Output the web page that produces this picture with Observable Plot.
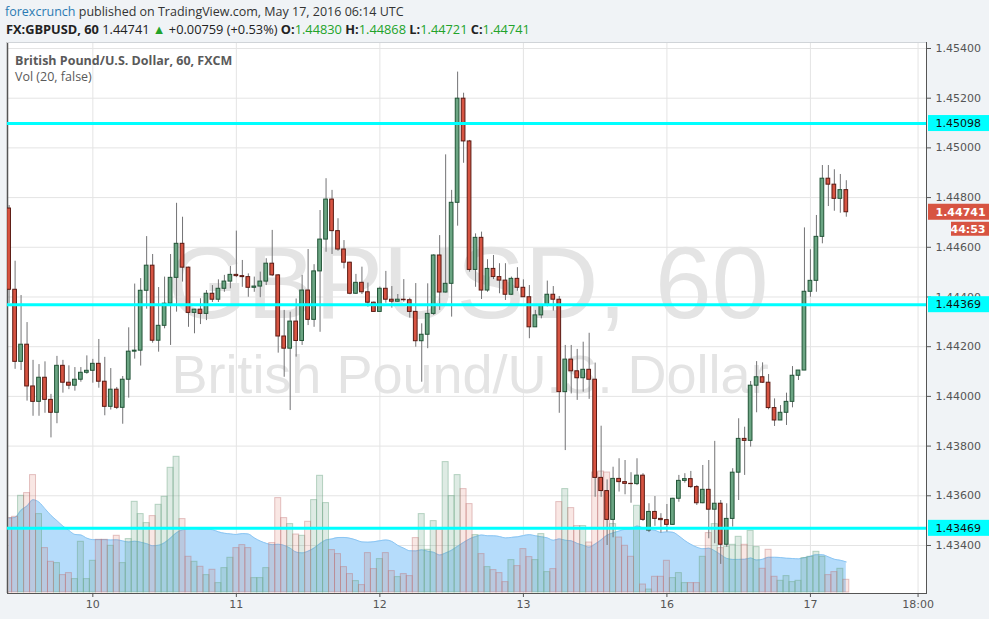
<!DOCTYPE html>
<html><head><meta charset="utf-8">
<script src="https://cdn.jsdelivr.net/npm/d3@7"></script>
<script src="https://cdn.jsdelivr.net/npm/@observablehq/plot@0.6"></script>
<style>
html,body{margin:0;padding:0;background:#f0f3f6;}
#wrap{position:relative;width:989px;height:619px;overflow:hidden;font-family:"Open Sans",sans-serif;}
#wrap svg{position:absolute;left:0;top:0;}
.t{position:absolute;white-space:nowrap;line-height:16px;}
.g{color:#22a32a;}
</style></head><body><div id="wrap"></div>
<script>
// ---- data (GBPUSD 60 min, FXCM) ----
const open = [1.44756,1.44429,1.44139,1.44208,1.44040,1.43978,1.44075,1.43986,1.43934,1.44123,
1.44055,1.44043,1.44067,1.44095,1.44103,1.44131,1.44059,1.43958,1.44027,1.43954,
1.44067,1.44180,1.44184,1.44425,1.44526,1.44224,1.44284,1.44373,1.44477,1.44614,
1.44518,1.44336,1.44349,1.44332,1.44413,1.44389,1.44433,1.44462,1.44489,1.44484,
1.44480,1.44437,1.44442,1.44462,1.44534,1.44487,1.44241,1.44192,1.44301,1.44223,
1.44426,1.44308,1.44503,1.44631,1.44792,1.44665,1.44591,1.44538,1.44413,1.44457,
1.44419,1.44377,1.44340,1.44433,1.44389,1.44381,1.44389,1.44387,1.44340,1.44222,
1.44248,1.44332,1.44567,1.44418,1.44453,1.44779,1.45198,1.45026,1.44509,1.44638,
1.44426,1.44513,1.44480,1.44466,1.44409,1.44473,1.44437,1.44399,1.44278,1.44326,
1.44366,1.44409,1.44389,1.44017,1.44148,1.44101,1.44073,1.44107,1.44067,1.43672,
1.43619,1.43503,1.43668,1.43655,1.43648,1.43647,1.43681,1.43460,1.43535,1.43507,
1.43502,1.43483,1.43588,1.43660,1.43667,1.43635,1.43570,1.43624,1.43544,1.43568,
1.43403,1.43507,1.43693,1.43829,1.43821,1.44043,1.44077,1.44055,1.43953,1.43903,
1.43934,1.43978,1.44083,1.44104,1.44421,1.44465,1.44642,1.44876,1.44852,1.44795,
1.44830];
const high = [1.44768,1.44544,1.44406,1.44297,1.44145,1.44128,1.44139,1.44008,1.44161,1.44145,
1.44123,1.44116,1.44116,1.44163,1.44149,1.44229,1.44157,1.44112,1.44036,1.44080,
1.44276,1.44452,1.44474,1.44643,1.44571,1.44438,1.44480,1.44571,1.44777,1.44721,
1.44520,1.44350,1.44393,1.44426,1.44446,1.44469,1.44487,1.44523,1.44665,1.44547,
1.44493,1.44480,1.44500,1.44554,1.44668,1.44490,1.44346,1.44339,1.44392,1.44487,
1.44591,1.44530,1.44748,1.44876,1.44829,1.44715,1.44627,1.44540,1.44491,1.44520,
1.44456,1.44380,1.44440,1.44503,1.44442,1.44410,1.44470,1.44395,1.44454,1.44292,
1.44453,1.44570,1.44647,1.44972,1.44829,1.45305,1.45220,1.45030,1.44654,1.44661,
1.44550,1.44567,1.44534,1.44534,1.44480,1.44518,1.44469,1.44446,1.44346,1.44366,
1.44464,1.44442,1.44402,1.44205,1.44205,1.44189,1.44218,1.44254,1.44134,1.43880,
1.43664,1.43715,1.43749,1.43742,1.43693,1.43749,1.43689,1.43568,1.43597,1.43528,
1.43565,1.43590,1.43682,1.43689,1.43698,1.43641,1.43722,1.43742,1.43819,1.43581,
1.43568,1.43709,1.43910,1.43876,1.44060,1.44140,1.44135,1.44088,1.43990,1.43963,
1.44013,1.44120,1.44104,1.44678,1.44590,1.44728,1.44929,1.44929,1.44912,1.44893,
1.44868];
const low = [1.44374,1.44109,1.44104,1.43981,1.43920,1.43920,1.43932,1.43833,1.43890,1.44013,
1.44027,1.44021,1.44057,1.44089,1.44053,1.44033,1.43922,1.43945,1.43947,1.43888,
1.43993,1.44150,1.44122,1.44351,1.44214,1.44178,1.44272,1.44205,1.44339,1.44460,
1.44278,1.44252,1.44289,1.44305,1.44378,1.44378,1.44419,1.44433,1.44478,1.44439,
1.44399,1.44419,1.44397,1.44446,1.44482,1.44174,1.44077,1.43943,1.44158,1.44205,
1.44285,1.44278,1.44258,1.44580,1.44571,1.44584,1.44513,1.44409,1.44410,1.44410,
1.44359,1.44339,1.44338,1.44375,1.44355,1.44379,1.44379,1.44315,1.44198,1.44057,
1.44192,1.44326,1.44346,1.44416,1.44319,1.44685,1.44938,1.44500,1.44439,1.44390,
1.44419,1.44470,1.44413,1.44386,1.44406,1.44423,1.44398,1.44232,1.44278,1.44312,
1.44360,1.44343,1.43932,1.43782,1.44010,1.43984,1.44017,1.43988,1.43594,1.43594,
1.43400,1.43431,1.43615,1.43604,1.43570,1.43641,1.43497,1.43452,1.43477,1.43450,
1.43454,1.43481,1.43574,1.43651,1.43629,1.43561,1.43568,1.43427,1.43407,1.43324,
1.43393,1.43474,1.43581,1.43682,1.43796,1.43934,1.44052,1.43946,1.43879,1.43903,
1.43883,1.43954,1.44064,1.44104,1.44399,1.44419,1.44614,1.44764,1.44745,1.44737,
1.44721];
const close = [1.44429,1.44139,1.44208,1.44040,1.43978,1.44075,1.43986,1.43934,1.44123,1.44055,
1.44043,1.44067,1.44095,1.44103,1.44131,1.44059,1.43958,1.44027,1.43954,1.44067,
1.44180,1.44184,1.44425,1.44526,1.44224,1.44284,1.44373,1.44477,1.44614,1.44518,
1.44336,1.44349,1.44332,1.44413,1.44389,1.44433,1.44462,1.44489,1.44484,1.44480,
1.44437,1.44442,1.44462,1.44534,1.44487,1.44241,1.44192,1.44301,1.44223,1.44426,
1.44308,1.44503,1.44631,1.44792,1.44665,1.44591,1.44538,1.44413,1.44457,1.44419,
1.44377,1.44340,1.44433,1.44389,1.44381,1.44389,1.44387,1.44340,1.44222,1.44248,
1.44332,1.44567,1.44418,1.44453,1.44779,1.45198,1.45026,1.44509,1.44638,1.44426,
1.44513,1.44480,1.44466,1.44409,1.44473,1.44437,1.44399,1.44278,1.44326,1.44366,
1.44409,1.44389,1.44017,1.44148,1.44101,1.44073,1.44107,1.44067,1.43672,1.43619,
1.43503,1.43668,1.43655,1.43648,1.43647,1.43681,1.43503,1.43535,1.43507,1.43502,
1.43483,1.43588,1.43660,1.43667,1.43635,1.43570,1.43624,1.43544,1.43568,1.43403,
1.43507,1.43693,1.43829,1.43821,1.44043,1.44077,1.44055,1.43953,1.43903,1.43934,
1.43978,1.44083,1.44104,1.44421,1.44465,1.44642,1.44876,1.44852,1.44795,1.44830,
1.44741];
const volume = [7440,7570,9670,9940,11740,7840,4440,3070,2940,1740,
1940,1340,5070,1340,3170,5270,5270,4670,5670,2940,
5340,9070,7840,6940,7640,8770,9570,12470,13570,7340,
3570,3070,2570,1740,2270,940,2440,3470,4440,4740,
4440,1440,1440,2440,4940,9440,7440,6840,5800,5670,
7070,9240,11670,8940,4240,3840,2540,1840,1140,740,
3940,2340,3340,3940,2140,1540,1840,1640,5440,7840,
4270,7140,6270,13040,9640,11740,10340,8840,5740,3840,
2540,2240,1940,1040,3240,2640,4340,3540,3240,5840,
2040,2340,9040,10340,8440,6640,6640,5000,12000,12100,
12000,6840,5500,4670,3570,8670,800,300,1570,1570,
3170,1440,1940,940,940,940,3570,5940,6840,4440,
4570,4770,5570,4770,6170,4540,2370,4270,1570,1170,
1640,1040,1170,3440,3570,4070,3570,1740,2040,2370,
1270];
const dayTicks = [14, 38, 62, 86, 110, 134, 152];      // bar index of each day label
const dayLabels = ["10", "11", "12", "13", "16", "17", "18:00"];
const priceTicks = [1.434,1.436,1.438,1.440,1.442,1.444,1.446,1.448,1.450,1.452,1.454];
const levels = [1.45098, 1.44369, 1.43469];
const prevClose = 1.43982;
const countdown = "44:53";

// ---- build table ----
const bars = open.map((o, i) => ({i, open: o, high: high[i], low: low[i], close: close[i], vol: volume[i], up: close[i] >= o}));
const last = bars[bars.length - 1];

const xDomain = [-0.27, 153.41];
const yDomain = [1.432068, 1.454241];
const W = 989, H = 619;
const common = {width: W, height: H, marginLeft: 7, marginRight: 63, marginTop: 42, marginBottom: 26,
  style: {background: "transparent", overflow: "visible"}};

const wrap = document.getElementById("wrap");

// Layer A: background, grid, watermark
const A = Plot.plot({...common,
  x: {domain: xDomain, axis: null}, y: {domain: yDomain, axis: null},
  marks: [
    Plot.frame({fill: "white"}),
    Plot.ruleY(priceTicks, {stroke: "#e4e4e4"}),
    Plot.ruleX(dayTicks, {stroke: "#e4e4e4"}),
    Plot.text(["GBPUSD, 60"], {frameAnchor: "top", lineAnchor: "middle", dy: 243, dx: 1, text: d => d, fontSize: 102, fill: "#e4e4e4", fontFamily: "Liberation Sans, Arial, sans-serif"}),
    Plot.text(["British Pound/U.S. Dollar"], {frameAnchor: "top", lineAnchor: "middle", dy: 333, dx: 3, text: d => d, fontSize: 54, fill: "#e4e4e4", fontFamily: "Liberation Sans, Arial, sans-serif"})
  ]
});
wrap.appendChild(A);

// Layer B: volume with 20-period average
const B = Plot.plot({...common,
  x: {domain: xDomain, axis: null}, y: {domain: [0, 55000], range: [592, 42], axis: null},
  marks: [
    Plot.areaY(bars, Plot.windowY({k: 20, anchor: "end", reduce: "mean"}, {x: "i", y: "vol", fill: "#b5dcfb", curve: "monotone-x", clip: true})),
    Plot.lineY(bars, Plot.windowY({k: 20, anchor: "end", reduce: "mean"}, {x: "i", y: "vol", stroke: "#8cc6f3", strokeWidth: 1, curve: "monotone-x", clip: true})),
    Plot.rect(bars.filter(d => d.up), {x1: d => d.i - 0.5, x2: d => d.i + 0.5, y1: 0, y2: "vol", fill: "rgba(107,165,131,0.22)", stroke: "rgba(107,165,131,0.45)", clip: true}),
    Plot.rect(bars.filter(d => !d.up), {x1: d => d.i - 0.5, x2: d => d.i + 0.5, y1: 0, y2: "vol", fill: "rgba(215,84,66,0.14)", stroke: "rgba(190,110,110,0.4)", clip: true})
  ]
});
wrap.appendChild(B);

// Layer C: candles, levels, axes
const C = Plot.plot({...common,
  style: {background: "transparent", overflow: "visible", fontSize: "11px", fontFamily: "DejaVu Sans, Verdana, sans-serif", color: "#555"},
  x: {domain: xDomain, ticks: dayTicks, tickFormat: v => dayLabels[dayTicks.indexOf(v)], tickSize: 4, tickPadding: 3, line: true, label: null},
  y: {domain: yDomain, axis: "right", ticks: priceTicks, tickFormat: d => d.toFixed(5), tickSize: 4, tickPadding: 5, line: true, label: null},
  marks: [
    Plot.ruleX([xDomain[0]], {stroke: "#555", strokeWidth: 1.5}),
    Plot.ruleY([yDomain[1]], {stroke: "#d0d4d8"}),
    Plot.ruleX(bars, {x: "i", y1: "low", y2: "high", stroke: "#737375", clip: true}),
    Plot.rect(bars.filter(d => d.up), {x1: d => d.i - 0.31, x2: d => d.i + 0.31, y1: "open", y2: "close", fill: "#6ba583", stroke: "#225437", clip: true}),
    Plot.rect(bars.filter(d => !d.up), {x1: d => d.i - 0.31, x2: d => d.i + 0.31, y1: "open", y2: "close", fill: "#d75442", stroke: "#5b1a13", clip: true}),
    Plot.ruleY(levels, {stroke: "#00ffff", strokeWidth: 3}),
    Plot.rect(levels, {y1: d => d, y2: d => d, insetLeft: 921, insetRight: -63, insetTop: -8, insetBottom: -8, fill: "#00ffff"}),
    Plot.text(levels, {y: d => d, frameAnchor: "right", dx: 9, textAnchor: "start", text: d => d.toFixed(5), fill: "#111"}),
    Plot.rect([last.close], {y1: d => d, y2: d => d, insetLeft: 921, insetRight: -63, insetTop: -8, insetBottom: -8, fill: "#d75442"}),
    Plot.text([last.close], {y: d => d, frameAnchor: "right", dx: 9, textAnchor: "start", text: d => d.toFixed(5), fill: "white", fontWeight: "bold"}),
    Plot.rect([last.close], {y1: d => d, y2: d => d, insetLeft: 944, insetRight: -63, insetTop: 10, insetBottom: -24, fill: "#d75442"}),
    Plot.text([last.close], {y: d => d, frameAnchor: "right", dx: 59, dy: 17, textAnchor: "end", text: () => countdown, fill: "white", fontWeight: "bold"})
  ]
});
wrap.appendChild(C);

// header and legend (HTML text)
const chg = last.close - prevClose;
const f5 = v => v.toFixed(5);
const h1 = document.createElement("div");
h1.className = "t"; h1.style.cssText = "left:5px;top:4px;font-size:12.5px;color:#333";
h1.innerHTML = '<span style="color:#2b7bb3">forexcrunch</span> published on TradingView.com, May 17, 2016 06:14 UTC';
wrap.appendChild(h1);
const h2 = document.createElement("div");
h2.className = "t"; h2.style.cssText = "left:6px;top:21px;font-size:12.8px;color:#222";
h2.innerHTML = `<b>FX:GBPUSD, 60</b> ${f5(last.close)} <span class="g">▲</span> +${f5(chg)} (+${(chg / prevClose * 100).toFixed(2)}%) ` +
  `<b>O:</b><span class="g">${f5(last.open)}</span> <b>H:</b><span class="g">${f5(last.high)}</span> ` +
  `<b>L:</b><span class="g">${f5(last.low)}</span> <b>C:</b><span class="g">${f5(last.close)}</span>`;
wrap.appendChild(h2);
const l1 = document.createElement("div");
l1.className = "t"; l1.style.cssText = "left:15px;top:53px;font-size:12.5px;font-weight:bold;color:#5a5a5a";
l1.textContent = "British Pound/U.S. Dollar, 60, FXCM";
wrap.appendChild(l1);
const l2 = document.createElement("div");
l2.className = "t"; l2.style.cssText = "left:15px;top:69px;font-size:12.5px;color:#5a5a5a";
l2.textContent = "Vol (20, false)";
wrap.appendChild(l2);
</script></body></html>
